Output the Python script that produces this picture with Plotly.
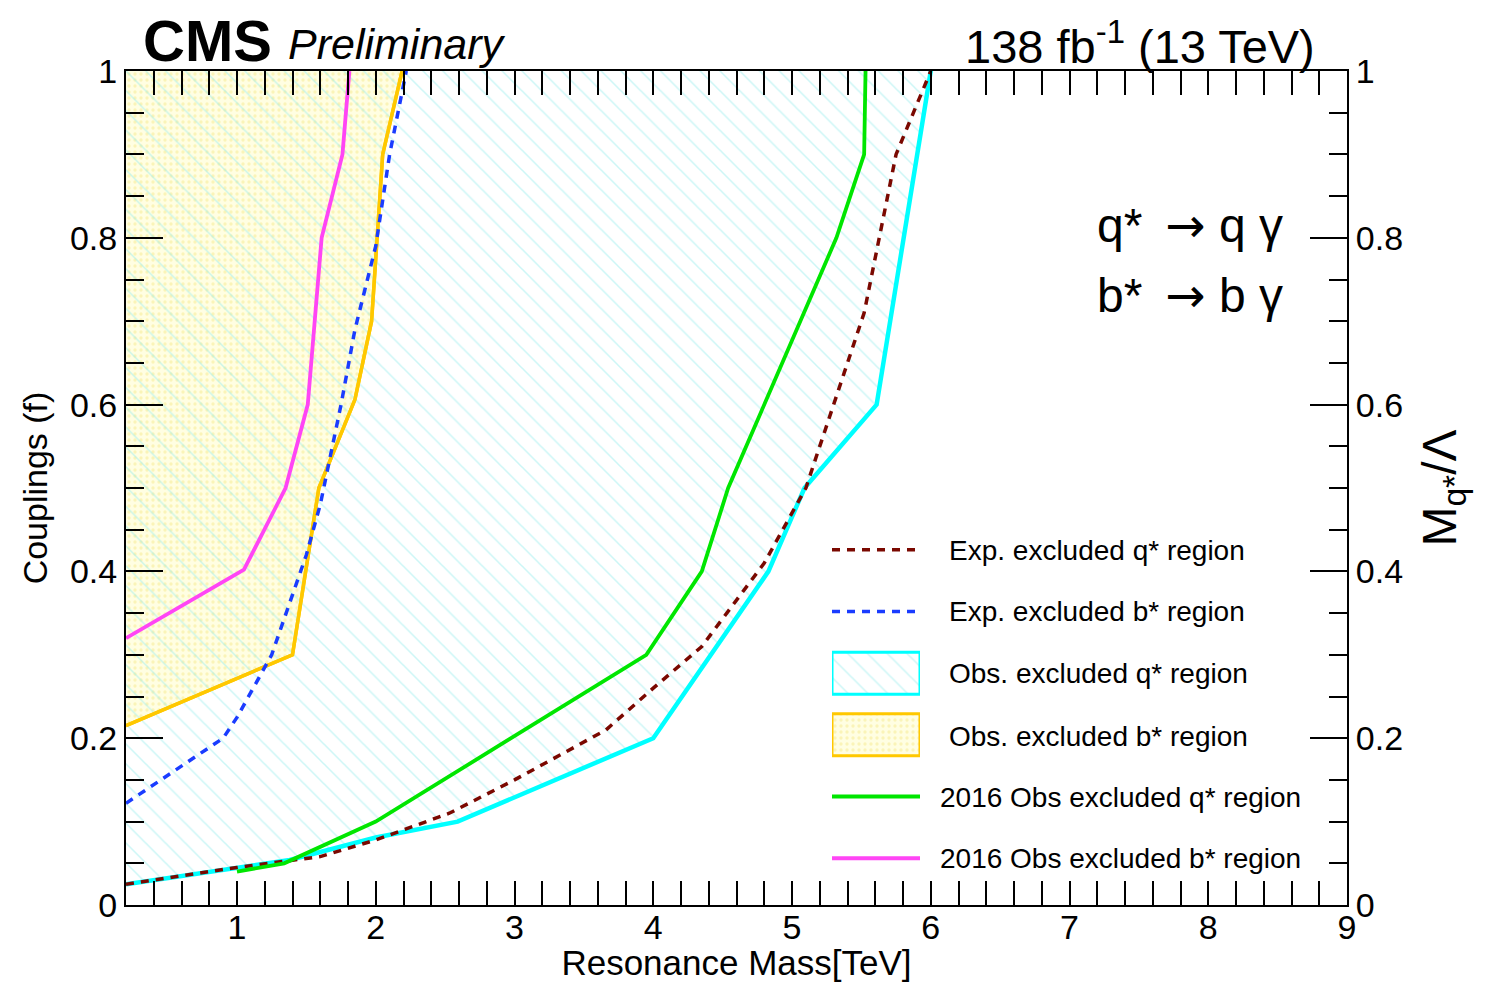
import plotly.graph_objects as go

# ---------------- data ----------------
obs_q_x = [0.2, 1.38, 2.0, 2.59, 4.0, 4.83, 5.09, 5.61, 6.0]
obs_q_y = [0.025, 0.054, 0.081, 0.10, 0.20, 0.40, 0.50, 0.60, 1.0]

obs_b_x = [0.2, 1.40, 1.59, 1.85, 1.97, 2.05, 2.19]
obs_b_y = [0.215, 0.30, 0.50, 0.606, 0.70, 0.90, 1.0]

exp_q_x = [0.2, 1.0, 1.6, 2.0, 2.53, 3.0, 3.66, 4.0, 4.35, 4.8, 5.1, 5.33, 5.52, 5.75, 6.0]
exp_q_y = [0.025, 0.045, 0.058, 0.078, 0.11, 0.15, 0.21, 0.26, 0.31, 0.41, 0.50, 0.615, 0.71, 0.90, 1.0]

exp_b_x = [0.2, 0.9, 1.0, 1.25, 1.5, 1.6, 1.75, 1.85, 2.0, 2.1, 2.22]
exp_b_y = [0.122, 0.20, 0.225, 0.30, 0.42, 0.48, 0.60, 0.69, 0.79, 0.90, 1.0]

old_q_x = [1.0, 1.34, 2.0, 3.95, 4.35, 4.54, 5.32, 5.52, 5.53]
old_q_y = [0.040, 0.050, 0.10, 0.30, 0.40, 0.50, 0.80, 0.90, 1.0]

old_b_x = [0.2, 1.05, 1.35, 1.51, 1.61, 1.76, 1.81]
old_b_y = [0.32, 0.402, 0.50, 0.60, 0.80, 0.90, 1.0]

legend_labels = [
    "Exp. excluded q* region",
    "Exp. excluded b* region",
    "Obs. excluded q* region",
    "Obs. excluded b* region",
    "2016 Obs excluded q* region",
    "2016 Obs excluded b* region",
]

X_RANGE = [0.2, 9.0]
Y_RANGE = [0.0, 1.0]

FONT = "Liberation Sans, Arial, Helvetica, sans-serif"

# styles
C_EXPQ = "#7a0800"
C_EXPB = "#1a3cff"
C_OBSQ = "#00ffff"
C_OBSB = "#ffc800"
C_OLDQ = "#00e600"
C_OLDB = "#ff45f5"
DASH = "8px,7px"
HATCH_Q = dict(shape="\\", fgcolor="#9aeeee", bgcolor="rgba(0,0,0,0)", size=14, solidity=0.11)
DOTS_B = dict(shape=".", fgcolor="#f5e98e", bgcolor="#fffee2", size=6, solidity=0.25)


def closed_above(xs, ys):
    """Close an exclusion contour through the upper-left corner, outside the visible frame."""
    pad = 0.5
    cx = xs + [xs[-1], X_RANGE[0] - pad, X_RANGE[0] - pad, xs[0]]
    cy = ys + [Y_RANGE[1] + pad, Y_RANGE[1] + pad, ys[0], ys[0]]
    return cx, cy


fig = go.Figure()

bx, by = closed_above(obs_b_x, obs_b_y)
fig.add_trace(go.Scatter(
    x=bx, y=by, mode="lines", fill="toself", name=legend_labels[3],
    line=dict(color=C_OBSB, width=3.5), fillcolor="#fffee2", fillpattern=DOTS_B,
    showlegend=False, hoverinfo="skip",
))
qx, qy = closed_above(obs_q_x, obs_q_y)
fig.add_trace(go.Scatter(
    x=qx, y=qy, mode="lines", fill="toself", name=legend_labels[2],
    line=dict(color=C_OBSQ, width=4.5), fillcolor="rgba(0,0,0,0)", fillpattern=HATCH_Q,
    showlegend=False, hoverinfo="skip",
))
fig.add_trace(go.Scatter(
    x=obs_b_x, y=obs_b_y, mode="lines", showlegend=False,
    line=dict(color=C_OBSB, width=3.5), hoverinfo="skip",
))
fig.add_trace(go.Scatter(x=exp_q_x, y=exp_q_y, mode="lines", name=legend_labels[0],
                         line=dict(color=C_EXPQ, width=3.5, dash=DASH), showlegend=False))
fig.add_trace(go.Scatter(x=exp_b_x, y=exp_b_y, mode="lines", name=legend_labels[1],
                         line=dict(color=C_EXPB, width=3.5, dash=DASH), showlegend=False))
fig.add_trace(go.Scatter(x=old_q_x, y=old_q_y, mode="lines", name=legend_labels[4],
                         line=dict(color=C_OLDQ, width=3.8), showlegend=False))
fig.add_trace(go.Scatter(x=old_b_x, y=old_b_y, mode="lines", name=legend_labels[5],
                         line=dict(color=C_OLDB, width=3.8), showlegend=False))
# bind the right-hand axis
fig.add_trace(go.Scatter(x=X_RANGE, y=Y_RANGE, yaxis="y2", mode="lines",
                         line=dict(width=0), showlegend=False, hoverinfo="skip"))

# ---------------- legend (drawn on its own small axes) ----------------
line_rows = {0: dict(color=C_EXPQ, width=3.5, dash=DASH),
             1: dict(color=C_EXPB, width=3.5, dash=DASH),
             4: dict(color=C_OLDQ, width=4),
             5: dict(color=C_OLDB, width=4)}
for row, ln in line_rows.items():
    fig.add_trace(go.Scatter(x=[0, 1], y=[row + 0.5, row + 0.5], mode="lines", line=ln,
                             xaxis="x3", yaxis="y3", showlegend=False, hoverinfo="skip"))
box_rows = {2: (C_OBSQ, "rgba(0,0,0,0)", HATCH_Q), 3: (C_OBSB, "#fffee2", DOTS_B)}
h = 0.34
for row, (lc, fc, pat) in box_rows.items():
    c = row + 0.5
    fig.add_trace(go.Scatter(x=[0, 1, 1, 0, 0], y=[c - h, c - h, c + h, c + h, c - h],
                             mode="lines", fill="toself", line=dict(color=lc, width=3),
                             fillcolor=fc, fillpattern=pat,
                             xaxis="x3", yaxis="y3", showlegend=False, hoverinfo="skip"))

W, H = 1493, 982
L, R, T, B = 126, 146, 71, 77
PW, PH = W - L - R, H - T - B


def px(xp):
    return (xp - L) / PW


def py(yp):
    return (H - B - yp) / PH


fig.update_layout(
    width=W, height=H,
    margin=dict(l=L, r=R, t=T, b=B, autoexpand=False),
    paper_bgcolor="white", plot_bgcolor="rgba(0,0,0,0)",
    font=dict(family=FONT, size=34, color="black"),
    showlegend=False,
    xaxis=dict(
        range=X_RANGE, tick0=0, dtick=1,
        showgrid=False, zeroline=False,
        showline=True, linecolor="black", linewidth=2, mirror="allticks",
        ticks="inside", ticklen=24, tickwidth=2, tickcolor="black",
        minor=dict(ticks="inside", dtick=0.2, tick0=0, ticklen=12, tickwidth=2, tickcolor="black", showgrid=False),
        tickfont=dict(size=34), ticklabelstandoff=-9,
        title=dict(text="Resonance Mass[TeV]", font=dict(size=35), standoff=13),
        layer="above traces",
    ),
    yaxis=dict(
        range=Y_RANGE, tick0=0, dtick=0.2,
        showgrid=False, zeroline=False,
        showline=True, linecolor="black", linewidth=2,
        ticks="inside", ticklen=37, tickwidth=2, tickcolor="black",
        minor=dict(ticks="inside", dtick=0.05, tick0=0, ticklen=18, tickwidth=2, tickcolor="black", showgrid=False),
        tickfont=dict(size=34),
        title=dict(text="Couplings (f)", font=dict(size=34), standoff=12),
        layer="above traces",
    ),
    yaxis2=dict(
        range=Y_RANGE, tick0=0, dtick=0.2, overlaying="y", side="right",
        showgrid=False, zeroline=False,
        showline=True, linecolor="black", linewidth=2,
        ticks="inside", ticklen=37, tickwidth=2, tickcolor="black",
        minor=dict(ticks="inside", dtick=0.05, tick0=0, ticklen=18, tickwidth=2, tickcolor="black", showgrid=False),
        tickfont=dict(size=34),
        title=dict(text="M<sub>q*</sub>/Λ", font=dict(size=48), standoff=20),
        layer="above traces",
    ),
    xaxis3=dict(domain=[px(832), px(920)], range=[0, 1], anchor="y3", visible=False, fixedrange=True),
    yaxis3=dict(domain=[py(889), py(519)], range=[6, 0], anchor="x3", visible=False, fixedrange=True),
)

arrow = '<span style="font-family:DejaVu Sans">→</span>'
annots = [
    dict(text="<b>CMS</b>", x=px(141), y=py(40), xanchor="left", yanchor="middle", font=dict(size=58)),
    dict(text="<i>Preliminary</i>", x=px(286), y=py(44), xanchor="left", yanchor="middle", font=dict(size=43)),
    dict(text="138 fb<sup>-1</sup> (13 TeV)", x=px(1317), y=py(43), xanchor="right", yanchor="middle", font=dict(size=47)),
    dict(text="q*\u2009 " + arrow + " q γ", x=px(1285), y=py(225), xanchor="right", yanchor="middle", font=dict(size=48)),
    dict(text="b*\u2009 " + arrow + " b γ", x=px(1285), y=py(295), xanchor="right", yanchor="middle", font=dict(size=48)),
]
row_y = [550, 611, 673, 736, 797, 858]
row_x = [947, 947, 947, 947, 938, 938]
for lbl, xx, yy in zip(legend_labels, row_x, row_y):
    annots.append(dict(text=lbl, x=px(xx), y=py(yy), xanchor="left", yanchor="middle", font=dict(size=28)))

for a in annots:
    a.update(xref="paper", yref="paper", showarrow=False)
    a["font"]["family"] = FONT
    a["font"]["color"] = "black"
    fig.add_annotation(**a)

fig.write_html("out.html")
